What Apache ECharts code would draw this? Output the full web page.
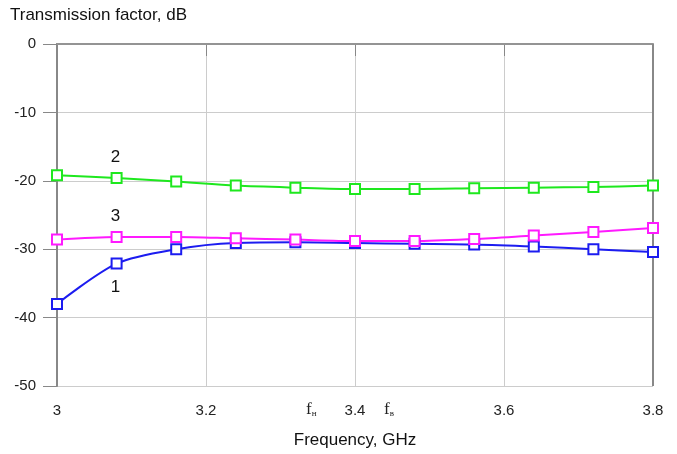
<!DOCTYPE html>
<html><head><meta charset="utf-8">
<script src="https://cdn.jsdelivr.net/npm/echarts@6/dist/echarts.min.js"></script>
<style>html,body{margin:0;padding:0;background:#fff}#c{width:677px;height:454px}</style>
</head><body><div id="c"></div>
<script>
const freq = [3.0, 3.08, 3.16, 3.24, 3.32, 3.40, 3.48, 3.56, 3.64, 3.72, 3.80];
const curve1 = [-38.0, -32.1, -30.0, -29.1, -29.0, -29.1, -29.2, -29.3, -29.6, -30.0, -30.4];
const curve2 = [-19.2, -19.6, -20.1, -20.7, -21.0, -21.2, -21.2, -21.1, -21.0, -20.9, -20.7];
const curve3 = [-28.6, -28.2, -28.2, -28.4, -28.6, -28.8, -28.8, -28.5, -28.0, -27.5, -26.9];
const xTicks = [3, 3.2, 3.4, 3.6, 3.8];
const yTicks = [0, -10, -20, -30, -40, -50];
const names = ['1', '2', '3'];

function mk(vals, color, name, labelPos) {
  return {
    type: 'line', name: name, smooth: 0.3,
    data: freq.map((f, i) => {
      const d = { value: [f, vals[i]] };
      if (i === 1) d.label = { show: true, formatter: name, position: labelPos, distance: labelPos === 'top' ? 6 : 9,
        offset: [-1, 0], color: '#111', fontSize: 17, fontFamily: 'Liberation Sans, Arial' };
      return d;
    }),
    symbol: 'rect', symbolSize: 10, showSymbol: true,
    itemStyle: { color: '#fff', borderColor: color, borderWidth: 2 },
    lineStyle: { color: color, width: 2 },
    z: 3
  };
}

const chart = echarts.init(document.getElementById('c'), null, { renderer: 'canvas' });
chart.setOption({
  animation: false,
  backgroundColor: '#fff',
  grid: { left: 57, right: 24, top: 44, bottom: 68, show: false },
  xAxis: {
    type: 'value', min: 3, max: 3.8, interval: 0.2,
    name: 'Frequency, GHz', nameLocation: 'middle', nameGap: 46,
    nameTextStyle: { color: '#111', fontSize: 17, fontFamily: 'Liberation Sans, Arial' },
    axisLine: { lineStyle: { color: '#888', width: 2 } },
    axisTick: { show: true, length: 12, inside: false, lineStyle: { color: '#888' } },
    axisLabel: { color: '#222', fontSize: 15, margin: 17, fontFamily: 'Liberation Sans, Arial',
      formatter: v => xTicks.includes(+v.toFixed(1)) ? String(+v.toFixed(1)) : '' },
    splitLine: { show: true, lineStyle: { color: '#ccc', width: 1 } }
  },
  yAxis: {
    type: 'value', min: -50, max: 0, interval: 10,
    axisLine: { show: true, lineStyle: { color: '#888', width: 2 } },
    axisTick: { show: true, length: 14, lineStyle: { color: '#888' } },
    axisLabel: { color: '#222', fontSize: 15, margin: 21, fontFamily: 'Liberation Sans, Arial',
      formatter: v => yTicks.includes(v) ? String(v) : '' },
    splitLine: { show: true, lineStyle: { color: '#ccc', width: 1 } }
  },
  series: [
    mk(curve1, '#1c1cf0', names[0], 'bottom'),
    mk(curve2, '#1ee81e', names[1], 'top'),
    mk(curve3, '#ff1aff', names[2], 'top')
  ],
  graphic: [
    { type: 'text', left: 10, top: 7, style: { text: 'Transmission factor, dB', fill: '#111', fontSize: 17, fontFamily: 'Liberation Sans, Arial' } },
    { type: 'line', shape: { x1: 57, y1: 44, x2: 653, y2: 44 }, style: { stroke: '#999', lineWidth: 1.5 }, z: 1 },
    { type: 'line', shape: { x1: 653, y1: 44, x2: 653, y2: 386 }, style: { stroke: '#888', lineWidth: 2 }, z: 1 },
    { type: 'text', left: 306, top: 401, style: { rich: { f: { fontSize: 17, fontFamily: 'Liberation Serif, serif', fill: '#222' }, s: { fontSize: 9, fontFamily: 'Liberation Serif, serif', fill: '#222', padding: [9, 0, 0, 0] } }, text: '{f|f}{s|н}' } },
    { type: 'text', left: 384, top: 401, style: { rich: { f: { fontSize: 17, fontFamily: 'Liberation Serif, serif', fill: '#222' }, s: { fontSize: 9, fontFamily: 'Liberation Serif, serif', fill: '#222', padding: [9, 0, 0, 0] } }, text: '{f|f}{s|в}' } }
  ]
});
</script></body></html>
